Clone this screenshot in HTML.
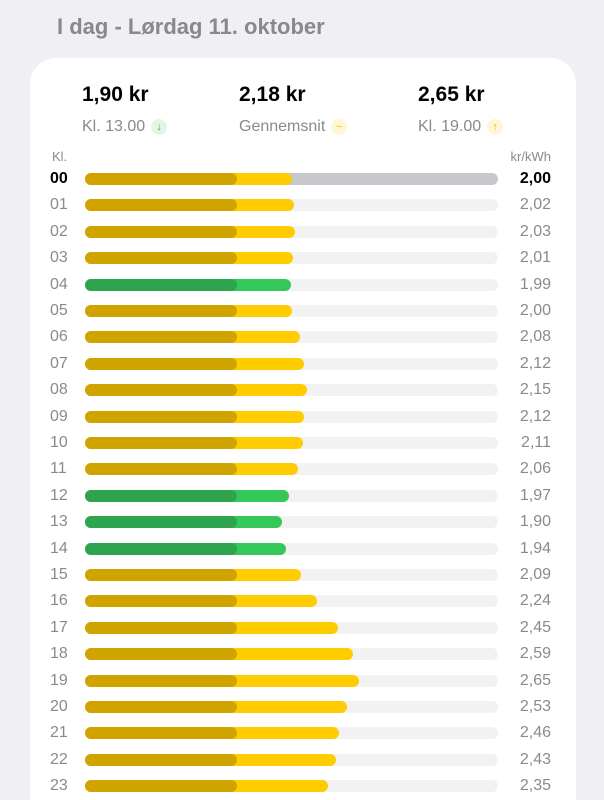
<!DOCTYPE html><html style="height:800px;overflow:hidden"><head><meta charset="utf-8"><style>
body{margin:0;width:604px;height:800px;background:#efeff4;font-family:"Liberation Sans",sans-serif;position:relative;overflow:hidden}
.t{position:absolute;left:57px;top:14px;font-size:22px;color:#88888d;font-weight:bold}
.card{position:absolute;left:30px;top:58px;width:546px;height:742px;background:#fff;border-radius:26px 26px 0 0}
.v{position:absolute;top:83px;font-size:21px;font-weight:bold;color:#000}
.s{position:absolute;top:118px;font-size:16px;color:#8a8a8e}
.ic{display:inline-block;width:16px;height:16px;border-radius:8px;font-size:11px;text-align:center;line-height:16px;margin-left:6px;vertical-align:1px}
.h{position:absolute;left:50px;font-size:16px;color:#8a8a8e;width:26px}
.val{position:absolute;right:53px;font-size:16px;color:#8a8a8e}
.tr{position:absolute;left:85px;width:413px;height:12px;border-radius:6px;background:#f2f2f2}
.b{position:absolute;left:85px;height:12px;border-radius:6px}
.d{position:absolute;left:85px;width:152px;height:12px;border-radius:6px}
</style></head><body>
<div class="t">I dag - Lørdag 11. oktober</div>
<div class="card"></div>
<div class="v" style="left:82px">1,90 kr</div>
<div class="v" style="left:239px">2,18 kr</div>
<div class="v" style="left:418px">2,65 kr</div>
<div class="s" style="left:82px">Kl. 13.00<span class="ic" style="background:#e3f6e6;color:#2eb84f">↓</span></div>
<div class="s" style="left:239px">Gennemsnit<span class="ic" style="background:#fff6d6;color:#f0c000">~</span></div>
<div class="s" style="left:418px">Kl. 19.00<span class="ic" style="background:#fff6d6;color:#f0c000">↑</span></div>
<div style="position:absolute;left:52px;top:149px;font-size:13px;color:#8a8a8e">Kl.</div>
<div style="position:absolute;right:53px;top:149px;font-size:13px;color:#8a8a8e">kr/kWh</div>
<div id="rows"></div>
<script>
var v=[2.00,2.02,2.03,2.01,1.99,2.00,2.08,2.12,2.15,2.12,2.11,2.06,1.97,1.90,1.94,2.09,2.24,2.45,2.59,2.65,2.53,2.46,2.43,2.35];
var h='';
for(var i=0;i<24;i++){
 var y=179+i*26.4;var g=v[i]<2.00;
 var c1=g?'#2ea44f':'#cfa300',c2=g?'#34c759':'#ffcc00';
 var end=292+(v[i]-2)*103;
 var hh=(i<10?'0':'')+i, vs=v[i].toFixed(2).replace('.',',');
 var bold=i==0?'font-weight:bold;color:#000;':'';
 h+='<div class="h" style="top:'+(y-9)+'px;'+bold+'">'+hh+'</div>';
 h+='<div class="val" style="top:'+(y-9)+'px;'+bold+'">'+vs+'</div>';
 h+='<div class="tr" style="top:'+(y-6)+'px;'+(i==0?'background:#c8c8cc':'')+'"></div>';
 h+='<div class="b" style="top:'+(y-6)+'px;width:'+(end-85)+'px;background:'+c2+'"></div>';
 h+='<div class="d" style="top:'+(y-6)+'px;background:'+c1+'"></div>';
}
document.getElementById('rows').innerHTML=h;
</script>
</body></html>
